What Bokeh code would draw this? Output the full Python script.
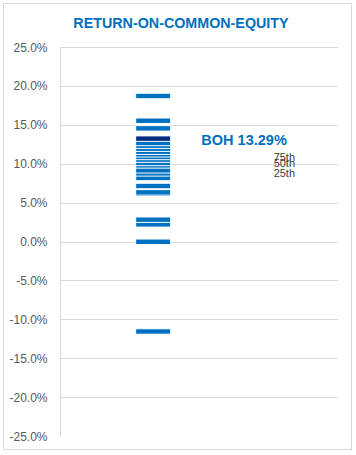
from bokeh.plotting import figure
from bokeh.models import Range1d, FixedTicker, PrintfTickFormatter, ColumnDataSource, Label
from bokeh.core.properties import value
from bokeh.embed import file_html
from bokeh.resources import INLINE

title_text = "RETURN-ON-COMMON-EQUITY"
peer_roe = [-11.5, 0.03, 2.27, 2.87, 6.2, 6.38, 7.2, 8.23, 8.82, 9.21, 9.85, 10.16,
            10.59, 10.93, 11.27, 11.61, 12.0, 12.38, 12.73, 14.61, 15.59, 18.77]
boh_name = "BOH"
boh_roe = 13.29
pct_labels = ["75th", "50th", "25th"]
pct_values = [10.9, 10.1, 8.9]
y_ticks = [-25, -20, -15, -10, -5, 0, 5, 10, 15, 20, 25]

BLUE = "#0070C0"
DARK = "#002A80"
GRID = "#d9d9d9"
FONT = "Liberation Sans"

# frame spans the full height; the value axis is bounded to -25..25
p = figure(width=349, height=447, output_backend="svg", toolbar_location=None,
           x_range=Range1d(0, 3), y_range=Range1d(-25, 30.53),
           min_border_left=56, min_border_right=15, min_border_top=0, min_border_bottom=15)
p.styles = {"border": "1px solid #d9d9d9"}
p.margin = (3, 0, 0, 3)
p.outline_line_color = None
p.background_fill_color = "white"
p.border_fill_color = "white"

p.add_layout(Label(x=1.3, y=28.15, text=title_text,
                   text_font=FONT, text_font_size="14.3px", text_font_style="bold",
                   text_color=BLUE, text_baseline="middle", text_align="center"))

p.xaxis.visible = False
p.xgrid.visible = False
ya = p.yaxis[0]
ya.bounds = (-25, 25)
ya.ticker = FixedTicker(ticks=y_ticks)
ya.formatter = PrintfTickFormatter(format="%.1f%%")
ya.axis_line_color = GRID
ya.major_tick_line_color = None
ya.minor_tick_line_color = None
ya.major_label_standoff = 7
ya.major_label_text_font = FONT
ya.major_label_text_font_size = "12px"
ya.major_label_text_color = "#595959"
p.ygrid.ticker = FixedTicker(ticks=y_ticks)
p.ygrid.grid_line_color = GRID

vals = sorted(peer_roe)
src = ColumnDataSource(dict(x=[1] * len(vals), y=vals))
p.rect(x="x", y="y", width=35, width_units="screen", height=0.7, source=src,
       fill_color=BLUE, line_color="white", line_width=1)
p.rect(x=[1], y=[boh_roe], width=35, width_units="screen", height=0.7,
       fill_color=DARK, line_color="white", line_width=1)

p.add_layout(Label(x=1.52, y=boh_roe, text=f"{boh_name} {boh_roe:.2f}%",
                   text_font=FONT, text_font_size="14.5px", text_font_style="bold",
                   text_color=BLUE, text_baseline="middle", y_offset=-1))
src2 = ColumnDataSource(dict(x=[2.3] * 3, y=pct_values, t=pct_labels))
p.text(x="x", y="y", text="t", source=src2, text_font=value(FONT), text_font_size="11px",
       text_color="#404040", text_baseline="middle")

open("out.html", "w").write(file_html(p, INLINE))
